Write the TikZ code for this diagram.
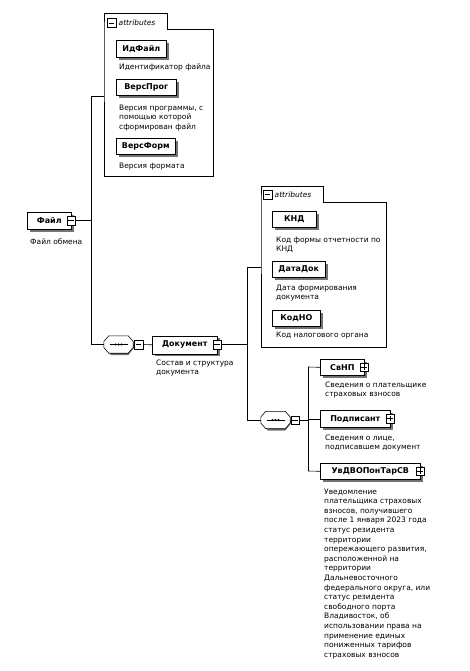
\documentclass[tikz,border=0pt]{standalone}
\usepackage{fontspec}
\setmainfont{DejaVu Sans}
\usetikzlibrary{shadows}
\tikzset{
  elem/.style={draw, fill=white, line width=0.6pt, font=\fontsize{8}{9}\selectfont\bfseries,
    inner sep=0pt, anchor=north west,
    general shadow={fill=black!55, shadow xshift=2.5pt, shadow yshift=-2.5pt}},
  desc/.style={font=\fontsize{7.5}{9.6}\selectfont, inner sep=0pt, anchor=north west, align=left},
  pm/.style={draw, fill=white, minimum size=8.5pt, inner sep=0pt, line width=0.5pt},
  conn/.style={line width=0.6pt},
  grp/.style={draw, line width=0.6pt},
  hdr/.style={font=\fontsize{7.5}{9}\selectfont\itshape, inner sep=0pt, anchor=west},
  comp/.style={minimum width=29pt, minimum height=17pt, inner sep=0pt},
}
\newcommand\minusbox[2]{\node[pm] (#1) at #2 {};
  \draw[line width=0.7pt] ([xshift=-2.6pt]#1.center) -- ([xshift=2.6pt]#1.center);}
\newcommand\plusbox[2]{\node[pm] (#1) at #2 {};
  \draw[line width=0.7pt] ([xshift=-2.6pt]#1.center) -- ([xshift=2.6pt]#1.center);
  \draw[line width=0.7pt] ([yshift=-2.6pt]#1.center) -- ([yshift=2.6pt]#1.center);}
\newcommand\octa[1]{%
  \fill[black!55] ([xshift=2pt,yshift=-2pt]#1.west) -- ([xshift=7pt,yshift=-2pt]#1.north west) -- ([xshift=-5pt,yshift=-2pt]#1.north east)
    -- ([xshift=2pt,yshift=-2pt]#1.east) -- ([xshift=-5pt,yshift=-2pt]#1.south east) -- ([xshift=7pt,yshift=-2pt]#1.south west) -- cycle;
  \filldraw[fill=white, line width=0.6pt] ([yshift=3pt]#1.west) -- ([xshift=5pt]#1.north west) -- ([xshift=-5pt]#1.north east)
    -- ([yshift=3pt]#1.east) -- ([yshift=-3pt]#1.east) -- ([xshift=-5pt]#1.south east) -- ([xshift=5pt]#1.south west) -- ([yshift=-3pt]#1.west) -- cycle;
  \draw[line width=0.6pt] ([xshift=-9pt]#1.center) -- ([xshift=9pt]#1.center);
  \foreach \dx in {-3,0,3} \fill ([xshift=\dx pt]#1.center) circle (1.1pt);}
\begin{document}
\begin{tikzpicture}[x=1pt,y=-1pt]
\useasboundingbox (0,0) rectangle (470,671);
\fill[white] (0,0) rectangle (470,671);

% ---------- group 1 (attributes of Файл)
\draw[grp] (104,29) -- (104,13) -- (167,13) -- (167,29) -- (213,29) -- (213,176) -- (104,176) -- cycle;
\minusbox{g1m}{(111.5,23)}
\node[hdr] (g1t) at (118.5,23) {attributes};
\coordinate (g1w) at (104,96);

\node[elem, minimum width=50pt, minimum height=17pt] (idf) at (116,40) {ИдФайл};
\node[desc] (idfd) at (119,63.5) {Идентификатор файла};
\node[elem, minimum width=60pt, minimum height=16pt] (vprog) at (116,79) {ВерсПрог};
\node[desc] (vprogd) at (119,104.5) {Версия программы, с\\помощью которой\\сформирован файл};
\node[elem, minimum width=59pt, minimum height=16pt] (vform) at (116,138) {ВерсФорм};
\node[desc] (vformd) at (119,162.5) {Версия формата};

% ---------- Файл
\node[elem, minimum width=44pt, minimum height=17pt] (file) at (27,212) {Файл};
\minusbox{filem}{(71,220.5)}
\node[desc] (filed) at (30,238.5) {Файл обмена};

\coordinate (j1) at (91,96);
\coordinate (j2) at (91,344.5);
\draw[conn] (filem.east) -- (filem.east -| j1);
\draw[conn] (j1) -- (j2);
\draw[conn] (j1) -- (g1w);

% ---------- sequence 1
\node[comp] (s1) at (118.5,344.5) {};
\octa{s1}
\minusbox{s1m}{(138.5,344.5)}
\draw[conn] (j2) -- (s1.west);

% ---------- Документ
\node[elem, minimum width=65pt, minimum height=18pt] (doc) at (152,335.5) {Документ};
\minusbox{docm}{(217,344.5)}
\node[desc] (docd) at (156,359.5) {Состав и структура\\документа};
\draw[conn] (s1m.east) -- (doc.west);

\coordinate (j3) at (247,267);
\coordinate (j4) at (247,420);
\draw[conn] (docm.east) -- (docm.east -| j3);
\draw[conn] (j3) -- (j4);

% ---------- group 2 (attributes of Документ)
\draw[grp] (261,202) -- (261,186) -- (323,186) -- (323,202) -- (386,202) -- (386,347) -- (261,347) -- cycle;
\minusbox{g2m}{(267.5,194.5)}
\node[hdr] (g2t) at (274.5,194.5) {attributes};
\coordinate (g2w) at (261,267);
\draw[conn] (j3) -- (g2w);

\node[elem, minimum width=44pt, minimum height=16pt] (knd) at (272,211) {КНД};
\node[desc] (kndd) at (276,236.5) {Код формы отчетности по\\КНД};
\node[elem, minimum width=53pt, minimum height=16pt] (datadok) at (272,261) {ДатаДок};
\node[desc] (datadokd) at (276,284.5) {Дата формирования\\документа};
\node[elem, minimum width=48pt, minimum height=16pt] (kodno) at (272,310) {КодНО};
\node[desc] (kodnod) at (276,331.5) {Код налогового органа};

% ---------- sequence 2
\node[comp] (s2) at (275.5,420) {};
\octa{s2}
\minusbox{s2m}{(295,420)}
\draw[conn] (j4) -- (s2.west);

\coordinate (j5) at (308,367);
\coordinate (j6) at (308,471);
\draw[conn] (s2m.east) -- (s2m.east -| j5);
\draw[conn] (j5) -- (j6);

% ---------- children
\node[elem, minimum width=44pt, minimum height=16pt] (svnp) at (320,359) {СвНП\hspace{6pt}};
\plusbox{svnpp}{(364,367)}
\node[desc] (svnpd) at (325,381.5) {Сведения о плательщике\\страховых взносов};
\draw[conn] (j5) -- (svnp.west);

\node[elem, minimum width=70pt, minimum height=17pt] (podp) at (320,410) {Подписант\hspace{6pt}};
\plusbox{podpp}{(390,418.5)}
\node[desc] (podpd) at (325,434.5) {Сведения о лице,\\подписавшем документ};
\draw[conn] (podp.west -| j5) -- (podp.west);

\node[elem, minimum width=100pt, minimum height=16pt] (uv) at (320,463) {УвДВОПонТарСВ\hspace{4pt}};
\plusbox{uvp}{(420,471)}
\node[desc] (uvd) at (324,488.5) {Уведомление\\плательщика страховых\\взносов, получившего\\после 1 января 2023 года\\статус резидента\\территории\\опережающего развития,\\расположенной на\\территории\\Дальневосточного\\федерального округа, или\\статус резидента\\свободного порта\\Владивосток, об\\использовании права на\\применение единых\\пониженных тарифов\\страховых взносов};
\draw[conn] (j6) -- (uv.west);
\end{tikzpicture}
\end{document}
